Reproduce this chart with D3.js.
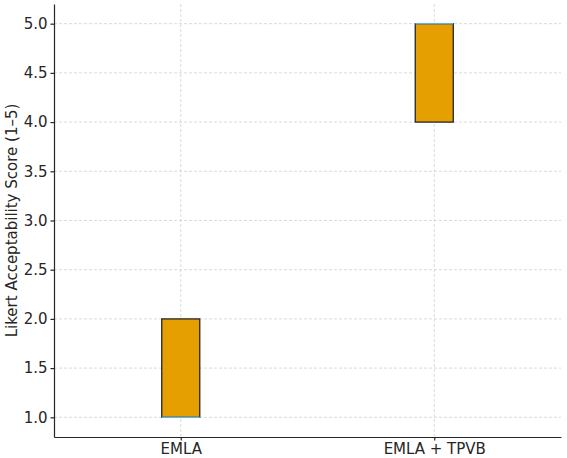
<!DOCTYPE html>
<html>
<head>
<meta charset="utf-8">
<script src="https://cdn.jsdelivr.net/npm/d3@7"></script>
<style>
  body { margin: 0; background: #fff; }
  svg, svg text { font-family: "DejaVu Sans", sans-serif; }
  .grid line { stroke: #d0d0d0; stroke-width: 0.8; stroke-dasharray: 3,2; }
  .axis text { font-size: 15px; fill: #262626; font-family: "DejaVu Sans", sans-serif; }
  .axis path, .axis line { stroke: #262626; stroke-width: 1.2; }
</style>
</head>
<body>
<div id="chart"></div>
<script>
// Datos
const categories = ["EMLA", "EMLA + TPVB"];
const lowerWhisker = [1, 4];
const q1 = [1, 4];
const median = [1, 5];
const q3 = [2, 5];
const upperWhisker = [2, 5];
const yTicks = [1.0, 1.5, 2.0, 2.5, 3.0, 3.5, 4.0, 4.5, 5.0];

const width = 567;
const height = 458;
const margin = { top: 4, right: 6, bottom: 21, left: 54 };

const svg = d3.select("#chart").append("svg")
    .attr("width", width)
    .attr("height", height);

// Escalas
const x = d3.scaleLinear()
    .domain([0.5, 2.5])
    .range([margin.left, width - margin.right]);

const y = d3.scaleLinear()
    .domain([0.8, 5.2])
    .range([height - margin.bottom, margin.top]);

const boxWidth = 0.15;

// Rejilla
svg.append("g")
    .attr("class", "grid")
    .selectAll("line")
    .data(yTicks)
    .enter().append("line")
    .attr("x1", margin.left)
    .attr("x2", width - margin.right)
    .attr("y1", d => y(d))
    .attr("y2", d => y(d));

svg.append("g")
    .attr("class", "grid")
    .selectAll("line")
    .data(categories)
    .enter().append("line")
    .attr("x1", (d, i) => x(i + 1))
    .attr("x2", (d, i) => x(i + 1))
    .attr("y1", margin.top)
    .attr("y2", height - margin.bottom);

// Cajas
const boxes = svg.selectAll(".box")
    .data(categories)
    .enter().append("g")
    .attr("class", "box");

boxes.append("line")
    .attr("x1", (d, i) => x(i + 1))
    .attr("x2", (d, i) => x(i + 1))
    .attr("y1", (d, i) => y(lowerWhisker[i]))
    .attr("y2", (d, i) => y(upperWhisker[i]))
    .attr("stroke", "#262626");

boxes.append("rect")
    .attr("x", (d, i) => x(i + 1 - boxWidth / 2))
    .attr("width", x(1 + boxWidth / 2) - x(1 - boxWidth / 2))
    .attr("y", (d, i) => y(q3[i]))
    .attr("height", (d, i) => y(q1[i]) - y(q3[i]))
    .attr("fill", "#E69F00")
    .attr("stroke", "#262626")
    .attr("stroke-width", 1.3);

boxes.append("line")
    .attr("x1", (d, i) => x(i + 1 - boxWidth / 2))
    .attr("x2", (d, i) => x(i + 1 + boxWidth / 2))
    .attr("y1", (d, i) => y(median[i]))
    .attr("y2", (d, i) => y(median[i]))
    .attr("stroke", "#56B4E9")
    .attr("stroke-width", 1.3);

// Ejes
const xAxis = svg.append("g")
    .attr("class", "axis")
    .attr("transform", `translate(0, ${height - margin.bottom})`)
    .call(d3.axisBottom(x)
        .tickValues([1, 2])
        .tickFormat((d, i) => categories[i])
        .tickSize(3.5)
        .tickSizeOuter(0)
        .tickPadding(3));
xAxis.attr("font-family", null).attr("font-size", null);

const yAxis = svg.append("g")
    .attr("class", "axis")
    .attr("transform", `translate(${margin.left}, 0)`)
    .call(d3.axisLeft(y)
        .tickValues(yTicks)
        .tickFormat(d3.format(".1f"))
        .tickSize(3.5)
        .tickSizeOuter(0)
        .tickPadding(3));
yAxis.attr("font-family", null).attr("font-size", null);

// Etiqueta del eje y
svg.append("text")
    .attr("transform", "rotate(-90)")
    .attr("x", -(y(3)))
    .attr("y", 17)
    .style("text-anchor", "middle")
    .style("font-size", "15px")
    .style("fill", "#262626")
    .text("Likert Acceptability Score (1–5)");
</script>
</body>
</html>
